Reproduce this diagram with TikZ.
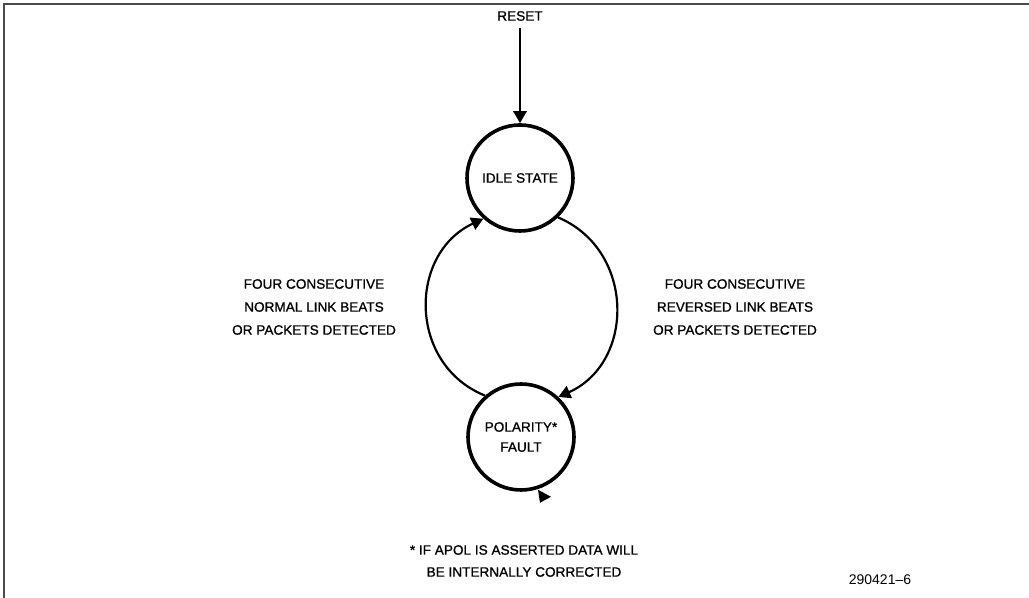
\documentclass[tikz,border=0pt]{standalone}
\usepackage{fontspec}
\setmainfont{Liberation Sans}[FakeBold=1]
\newfontfamily\numfont{Liberation Sans}
\usetikzlibrary{arrows.meta}

\tikzset{
  state/.style={circle,draw,line width=1.8pt,minimum size=53pt,inner sep=0pt,align=center},
  edge/.style={line width=1.1pt,-{Triangle[length=6pt,width=6.5pt]}}
}

\begin{document}
\begin{tikzpicture}[x=0.5pt,y=0.5pt,font=\fontsize{6.8}{11.5}\selectfont]
        \useasboundingbox (0,0) rectangle (1029,598);
        \draw[black!70,line width=1pt] (4,0) -- (4,594) -- (1029,594);

        % states
        \node (reset) at (520,582) {RESET};
        \node[state] (idle) at (520,420) {IDLE STATE};
        \node[state,font=\fontsize{6.8}{10}\selectfont] (fault) at (521,161) {POLARITY*\\FAULT};

        % transitions
        \draw[edge,line width=1.4pt] (reset.south) -- (idle.north);
        \draw[edge] (fault.131) to[out=158,in=205,looseness=1.2] (idle.228);
        \draw[edge] (idle.314) to[out=-23,in=24,looseness=1.2] (fault.47);
        \fill (fault.south) ++(17,2) -- ++(13,-7) -- ++(-11,-6) -- cycle;

        \node[align=center] (normal) at (314,291) {FOUR CONSECUTIVE\\NORMAL LINK BEATS\\OR PACKETS DETECTED};
        \node[align=center] (reversed) at (735,291) {FOUR CONSECUTIVE\\REVERSED LINK BEATS\\OR PACKETS DETECTED};

        % footnote
        \node[align=center,font=\fontsize{6.8}{11}\selectfont] (note) at (524,37) {* IF APOL IS ASSERTED DATA WILL\\BE INTERNALLY CORRECTED};
        \node[font=\numfont\fontsize{7}{8}\selectfont] (fignum) at (880,18) {290421–6};
\end{tikzpicture}
\end{document}
